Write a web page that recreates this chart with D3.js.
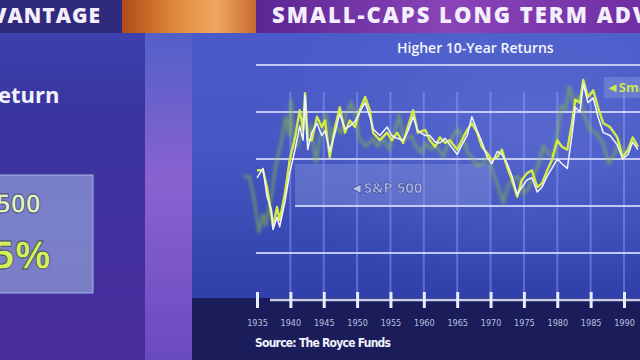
<!DOCTYPE html>
<html>
<head>
<meta charset="utf-8">
<script src="https://cdn.jsdelivr.net/npm/d3@7"></script>
<style>
  body { margin: 0; background: #2a2a70; }
  svg { display: block; }
</style>
</head>
<body>
<svg id="chart" width="640" height="360"></svg>
<script>
// rolling 10-year returns (%)
let years = [1935.0, 1935.9, 1936.5, 1937.2, 1937.4, 1938.0, 1938.4, 1939.2, 1939.9, 1940.7,
  1941.4, 1941.9, 1942.2, 1942.6, 1943.2, 1944.0, 1944.7, 1945.2, 1945.9, 1946.7,
  1947.4, 1948.2, 1948.9, 1949.7, 1950.4, 1951.2, 1951.9, 1952.4, 1953.4, 1954.5,
  1955.2, 1956.0, 1956.9, 1957.6, 1958.4, 1959.1, 1960.2, 1960.9, 1961.7, 1962.4,
  1963.2, 1963.9, 1965.0, 1965.7, 1966.5, 1967.2, 1968.0, 1968.7, 1969.5, 1970.2,
  1971.0, 1971.7, 1972.5, 1973.2, 1974.0, 1974.7, 1975.5, 1976.2, 1977.0, 1977.7,
  1978.5, 1979.2, 1980.0, 1980.7, 1981.5, 1982.2, 1982.7, 1983.4, 1983.9, 1984.6,
  1985.4, 1986.1, 1986.9, 1987.9, 1989.0, 1989.8, 1990.6, 1991.3, 1992.1];

let smallCaps = [8.8, 8.8, 7.0, 3.8, 2.8, 4.9, 3.5, 6.4, 9.9, 12.3,
  15.2, 13.1, 17.0, 12.0, 12.0, 14.5, 13.4, 14.1, 10.2, 13.4,
  15.5, 12.8, 14.1, 13.4, 15.2, 16.6, 15.2, 12.8, 12.0, 12.8,
  12.0, 12.8, 11.7, 13.4, 15.2, 12.8, 13.1, 12.0, 11.3, 12.3,
  11.7, 12.0, 11.0, 12.0, 13.1, 13.8, 12.8, 11.3, 10.6, 9.9,
  10.2, 11.0, 9.1, 7.8, 6.0, 7.8, 8.5, 8.8, 7.0, 7.4,
  8.8, 9.9, 12.0, 11.3, 11.0, 13.8, 16.3, 16.0, 18.4, 16.6,
  17.3, 15.5, 13.8, 13.4, 12.3, 10.2, 11.0, 12.3, 11.3];

let sp500 = [8.0, 9.0, 6.0, 4.5, 2.5, 3.8, 2.8, 5.5, 8.5, 11.0,
  13.5, 12.0, 16.8, 11.0, 12.8, 13.8, 12.5, 13.0, 10.8, 12.8,
  14.8, 13.2, 13.5, 14.0, 15.0, 16.0, 14.5, 13.2, 12.5, 13.4,
  12.5, 12.2, 12.0, 12.9, 14.5, 13.0, 12.5, 12.5, 11.8, 11.7,
  12.2, 11.5, 10.5, 11.5, 12.5, 14.5, 13.0, 11.8, 10.2, 9.5,
  10.8, 10.5, 9.5, 8.2, 6.2, 7.0, 7.8, 8.0, 6.5, 7.0,
  8.2, 9.0, 10.0, 9.5, 9.0, 12.5, 15.5, 15.0, 18.0, 16.0,
  16.5, 14.5, 12.8, 12.5, 11.5, 10.0, 10.5, 11.8, 11.0];

let tickYears = [1935, 1940, 1945, 1950, 1955, 1960, 1965, 1970, 1975, 1980, 1985, 1990];
let gridLevels = [0, 5, 10, 15, 20];

let svg = d3.select("#chart");
let defs = svg.append("defs");

// gradients for the tv backdrop
let g1 = defs.append("linearGradient").attr("id", "panel").attr("x1", 0).attr("y1", 0).attr("x2", 0).attr("y2", 1);
g1.append("stop").attr("offset", "0%").attr("stop-color", "#4a5ac8");
g1.append("stop").attr("offset", "45%").attr("stop-color", "#4656c2");
g1.append("stop").attr("offset", "100%").attr("stop-color", "#3040aa");

let g2 = defs.append("linearGradient").attr("id", "banner").attr("x1", 0).attr("y1", 0).attr("x2", 1).attr("y2", 0);
g2.append("stop").attr("offset", "0%").attr("stop-color", "#5a2592");
g2.append("stop").attr("offset", "50%").attr("stop-color", "#8a44b8");
g2.append("stop").attr("offset", "100%").attr("stop-color", "#6e2fa2");

let g3 = defs.append("linearGradient").attr("id", "orange").attr("x1", 0).attr("y1", 0).attr("x2", 1).attr("y2", 0);
g3.append("stop").attr("offset", "0%").attr("stop-color", "#b04a18");
g3.append("stop").attr("offset", "40%").attr("stop-color", "#e08a3a");
g3.append("stop").attr("offset", "70%").attr("stop-color", "#f0a860");
g3.append("stop").attr("offset", "100%").attr("stop-color", "#c86a30");

let g4 = defs.append("linearGradient").attr("id", "left").attr("x1", 0).attr("y1", 0).attr("x2", 0).attr("y2", 1);
g4.append("stop").attr("offset", "0%").attr("stop-color", "#3c46b2");
g4.append("stop").attr("offset", "30%").attr("stop-color", "#3a36a0");
g4.append("stop").attr("offset", "100%").attr("stop-color", "#4a2c9c");

let g5 = defs.append("linearGradient").attr("id", "strip").attr("x1", 0).attr("y1", 0).attr("x2", 0).attr("y2", 1);
g5.append("stop").attr("offset", "0%").attr("stop-color", "#5260c8");
g5.append("stop").attr("offset", "45%").attr("stop-color", "#8a62d0");
g5.append("stop").attr("offset", "100%").attr("stop-color", "#6a4ac0");

let rg = defs.append("radialGradient").attr("id", "glow").attr("cx", "75%").attr("cy", "35%").attr("r", "60%");
rg.append("stop").attr("offset", "0%").attr("stop-color", "#7080e0").attr("stop-opacity", 0.4);
rg.append("stop").attr("offset", "100%").attr("stop-color", "#7080e0").attr("stop-opacity", 0);

defs.append("filter").attr("id", "blur").append("feGaussianBlur").attr("stdDeviation", 1.4);
defs.append("filter").attr("id", "soft").append("feGaussianBlur").attr("stdDeviation", 0.5);

defs.append("clipPath").attr("id", "plotClip")
  .append("rect").attr("x", 192).attr("y", 33).attr("width", 448).attr("height", 265);

//backdrop
svg.append("rect").attr("x", 0).attr("y", 0).attr("width", 640).attr("height", 360).attr("fill", "url(#left)");
svg.append("rect").attr("x", 145).attr("y", 33).attr("width", 47).attr("height", 327).attr("fill", "url(#strip)");
svg.append("rect").attr("x", 192).attr("y", 33).attr("width", 448).attr("height", 267).attr("fill", "url(#panel)");
svg.append("rect").attr("x", 192).attr("y", 33).attr("width", 448).attr("height", 267).attr("fill", "url(#glow)");
svg.append("rect").attr("x", 192).attr("y", 298).attr("width", 448).attr("height", 62).attr("fill", "#1b1d5a");

//top banner
svg.append("rect").attr("x", 0).attr("y", 0).attr("width", 122).attr("height", 33).attr("fill", "#2f2a7c");
svg.append("rect").attr("x", 122).attr("y", 0).attr("width", 134).attr("height", 33).attr("fill", "url(#orange)").attr("filter", "url(#soft)");
svg.append("rect").attr("x", 256).attr("y", 0).attr("width", 384).attr("height", 33).attr("fill", "url(#banner)");

svg.append("text")
  .attr("x", -8).attr("y", 23)
  .style("font-family", "Open Sans").style("font-weight", "800").style("font-size", "21px")
  .style("letter-spacing", "1px")
  .attr("fill", "#f4eefc")
  .text("VANTAGE");

svg.append("text")
  .attr("x", 272).attr("y", 23)
  .style("font-family", "Open Sans").style("font-weight", "800").style("font-size", "22px")
  .style("letter-spacing", "2px")
  .attr("fill", "#f4eefc")
  .text("SMALL-CAPS LONG TERM ADVANTAGE");

//left side text
svg.append("text")
  .attr("x", -2).attr("y", 103)
  .style("font-family", "Open Sans").style("font-weight", "700").style("font-size", "22px")
  .attr("fill", "#f2f2ff")
  .text("eturn");

svg.append("rect").attr("x", -2).attr("y", 175).attr("width", 95).attr("height", 118)
  .attr("fill", "#8c9ad6").attr("fill-opacity", 0.75).attr("stroke", "#a8b4e6").attr("stroke-width", 1);

svg.append("text")
  .attr("x", -4).attr("y", 213)
  .style("font-family", "Open Sans").style("font-weight", "700").style("font-size", "26px")
  .attr("fill", "#e6f2c0").attr("stroke", "#3a4a70").attr("stroke-width", 0.8)
  .text("500");

svg.append("text")
  .attr("x", -8).attr("y", 269)
  .style("font-family", "Open Sans").style("font-weight", "700").style("font-size", "40px")
  .attr("fill", "#d6f05a").attr("stroke", "#3a4a60").attr("stroke-width", 0.8)
  .text("5%");

//scales
let x = d3.scaleLinear().domain([1935, 1990]).range([257, 624]);
let y = d3.scaleLinear().domain([0, 20]).range([253, 65]);

//heading
svg.append("text")
  .attr("x", 397).attr("y", 53)
  .style("font-family", "Open Sans").style("font-weight", "600").style("font-size", "14px")
  .attr("fill", "#f4f6ff")
  .text("Higher 10-Year Returns");

//vertical gridlines
svg.append("g").selectAll("line")
  .data(tickYears.slice(1))
  .enter().append("line")
  .attr("x1", d => x(d)).attr("x2", d => x(d))
  .attr("y1", 92).attr("y2", 292)
  .attr("stroke", "#b0bcff").attr("stroke-width", 2).attr("stroke-opacity", 0.35);

//label box for S&P
svg.append("rect").attr("x", 295).attr("y", 164).attr("width", 195).attr("height", 42)
  .attr("fill", "#8898dc").attr("fill-opacity", 0.4);

//horizontal gridlines
svg.append("g").selectAll("line")
  .data(gridLevels)
  .enter().append("line")
  .attr("x1", d => d == 5 ? 295 : 256).attr("x2", 640)
  .attr("y1", d => y(d)).attr("y2", d => y(d))
  .attr("stroke", "#d6dcff").attr("stroke-width", 2).attr("stroke-opacity", 0.85);

svg.append("text")
  .attr("x", 349).attr("y", 193)
  .style("font-family", "Open Sans").style("font-weight", "700").style("font-size", "15px")
  .attr("fill", "#b8c4ea").attr("stroke", "#2e3c90").attr("stroke-width", 0.6)
  .text("\u25C4S&P 500");

//lines
let valueline = (vals) => d3.line()
  .x((d, i) => x(years[i]))
  .y(d => y(d))(vals);

let plot = svg.append("g").attr("clip-path", "url(#plotClip)");

plot.append("path")
  .attr("d", valueline(smallCaps))
  .attr("transform", "translate(-14,6)")
  .attr("fill", "none").attr("stroke", "#8cc83a").attr("stroke-width", 3)
  .attr("stroke-opacity", 0.5).attr("filter", "url(#blur)");

plot.append("path")
  .attr("d", valueline(smallCaps))
  .attr("fill", "none").attr("stroke", "#d2ec44").attr("stroke-width", 2.4)
  .attr("stroke-linejoin", "round");

plot.append("path")
  .attr("d", valueline(sp500))
  .attr("fill", "none").attr("stroke", "#f2f4ff").attr("stroke-width", 1.5)
  .attr("stroke-linejoin", "round");

//small-caps label, cut off at the right edge
svg.append("rect").attr("x", 604).attr("y", 77).attr("width", 40).attr("height", 21)
  .attr("fill", "#8898dc").attr("fill-opacity", 0.45);
svg.append("text")
  .attr("x", 606).attr("y", 92)
  .style("font-family", "Open Sans").style("font-weight", "700").style("font-size", "13px")
  .attr("fill", "#c8e850")
  .text("\u25C4Small-Caps");

//x axis
svg.append("line").attr("x1", 270).attr("x2", 640).attr("y1", 300).attr("y2", 300)
  .attr("stroke", "#c6ceee").attr("stroke-width", 2.5);

let ticks = svg.append("g")
  .attr("transform", "translate(0,292)")
  .call(d3.axisBottom(x).tickValues(tickYears).tickSize(16).tickFormat(""));
ticks.select(".domain").remove();
ticks.selectAll("line").attr("stroke", "#e8ecff").attr("stroke-width", 3);

let labels = svg.append("g")
  .attr("transform", "translate(0,320)")
  .call(d3.axisBottom(x).tickValues(tickYears).tickSize(0).tickPadding(0).tickFormat(d3.format("d")));
labels.select(".domain").remove();
labels.selectAll("text")
  .style("font-family", "DejaVu Sans Condensed, Liberation Sans Narrow, sans-serif")
  .style("font-size", "9px")
  .attr("fill", "#b8c0de");

//source
svg.append("text")
  .attr("x", 255).attr("y", 347)
  .style("font-family", "DejaVu Sans Condensed, sans-serif").style("font-weight", "700").style("font-size", "12px")
  .attr("fill", "#f0f2ff")
  .attr("textLength", 136)
  .text("Source: The Royce Funds");
</script>
</body>
</html>
